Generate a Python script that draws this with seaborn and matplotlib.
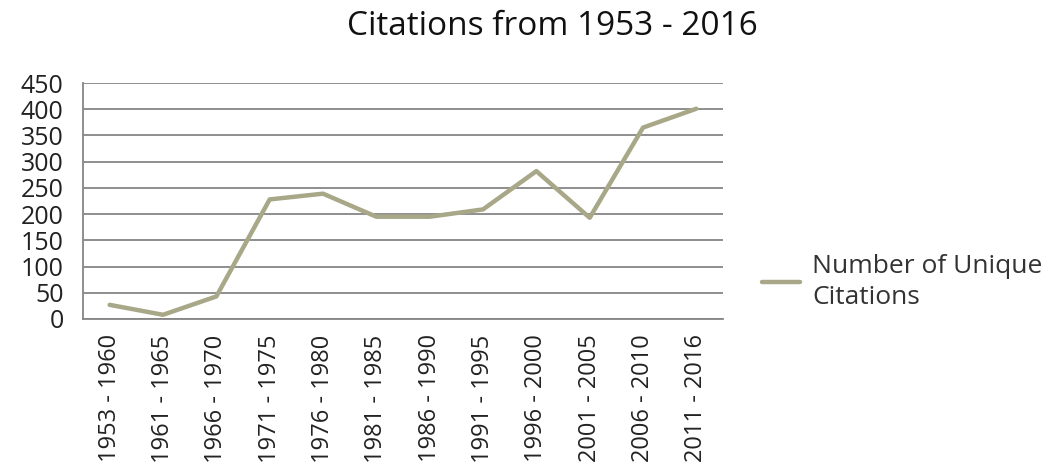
import matplotlib
matplotlib.use("Agg")
import matplotlib.pyplot as plt
import seaborn as sns
import pandas as pd
import numpy as np
from matplotlib.ticker import FixedLocator

periods = ["1953 - 1960", "1961 - 1965", "1966 - 1970", "1971 - 1975", "1976 - 1980",
           "1981 - 1985", "1986 - 1990", "1991 - 1995", "1996 - 2000", "2001 - 2005",
           "2006 - 2010", "2011 - 2016"]
citations = [27, 8, 43, 228, 239, 195, 195, 209, 282, 193, 365, 401]
y_ticks = [0, 50, 100, 150, 200, 250, 300, 350, 400, 450]
series_name = "Number of Unique\nCitations"
title = "Citations from 1953 - 2016"

sns.set_theme(style="white")
plt.rcParams['font.family'] = ['Open Sans', 'DejaVu Sans']

df = pd.DataFrame({"period": periods, "citations": citations})
df["series"] = series_name

fig = plt.figure(figsize=(10.56, 4.73), dpi=100)
ax = fig.add_axes([0.0786, 0.3256, 0.6061, 0.4989])

color = "#A8A888"
sns.lineplot(data=df, x="period", y="citations", hue="series", palette=[color],
             sort=False, linewidth=3.2, ax=ax, legend=True)

ax.set_ylim(0, 450)
ax.set_xlim(-0.5, len(periods) - 0.5)
ax.set_yticks(y_ticks)
ax.set_yticklabels([str(v) for v in y_ticks], fontsize=18, color="#222222")
ax.set_xticks(range(len(periods)))
ax.set_xticklabels(periods, rotation=90, fontsize=17, color="#222222")
ax.xaxis.set_minor_locator(FixedLocator(np.arange(-0.5, len(periods), 1.0)))
ax.tick_params(axis="x", which="major", length=0, pad=11)
ax.tick_params(axis="x", which="minor", length=7, width=1.2, color="#868686", direction="out")
ax.tick_params(axis="y", which="major", length=9, width=1.2, color="#868686", direction="out", pad=5)
ax.grid(axis="y", color="#868686", linewidth=1.3)
ax.set_axisbelow(True)
for s in ["top", "right"]:
    ax.spines[s].set_visible(False)
for s in ["left", "bottom"]:
    ax.spines[s].set_color("#868686")
    ax.spines[s].set_linewidth(1.3)
ax.set_xlabel("")
ax.set_ylabel("")

leg = ax.legend(loc="center left", bbox_to_anchor=(0.6993, 0.404), bbox_transform=fig.transFigure,
                frameon=False, fontsize=19, handlelength=1.44, handletextpad=0.45)
for line in leg.get_lines():
    line.set_linewidth(3.2)
for t in leg.get_texts():
    t.set_color("#333333")
    t.set_linespacing(1.3)

fig.text(0.523, 0.945, title, ha="center", va="center", fontsize=24, color="#111111")

fig.savefig("out.png", dpi=100)
